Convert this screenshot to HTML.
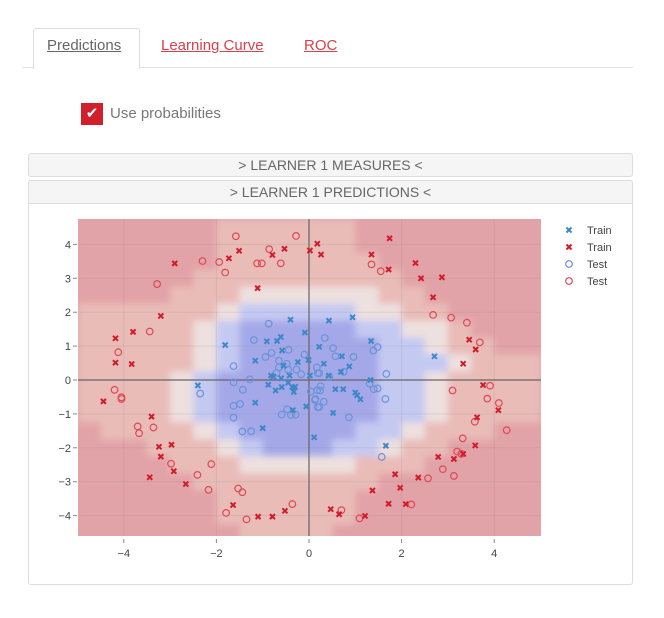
<!DOCTYPE html>
<html><head><meta charset="utf-8"><style>
body{margin:0;width:664px;height:618px;background:#fff;font-family:"Liberation Sans",sans-serif;position:relative;overflow:hidden}
.abs{position:absolute}
.tab{position:absolute;top:37px;font-size:15px;text-decoration:underline}
.hdr{position:absolute;left:28px;width:603px;height:22px;background:#f5f5f5;border:1px solid #ddd;border-radius:3px;text-align:center;font-size:14px;line-height:22px;color:#666}
</style></head><body>
<div class="abs" style="left:22px;top:67px;width:611px;height:1px;background:#e3e3e3"></div>
<div class="abs" style="left:33px;top:28px;width:105px;height:40px;border:1px solid #ddd;border-bottom:none;background:#fff;border-radius:3px 3px 0 0"></div>
<div class="tab" style="left:47px;color:#666">Predictions</div>
<div class="tab" style="left:161px;color:#d9404a">Learning Curve</div>
<div class="tab" style="left:304px;color:#d9404a">ROC</div>
<div class="abs" style="left:81px;top:103px;width:22px;height:22px;background:#d11f2c;color:#fff;font-size:15px;line-height:22px;text-align:center">✔</div>
<div class="abs" style="left:110px;top:105px;font-size:15px;color:#777">Use probabilities</div>
<div class="hdr" style="top:153px">&gt; LEARNER 1 MEASURES &lt;</div>
<div class="abs" style="left:28px;top:180px;width:603px;height:403px;border:1px solid #ddd;border-radius:3px"></div>
<div class="hdr" style="top:180px;border-radius:3px 3px 0 0">&gt; LEARNER 1 PREDICTIONS &lt;</div>
<svg class="abs" style="left:0;top:0" width="664" height="618" id="chart">
<defs><clipPath id="cp"><rect x="78" y="219" width="463" height="317"/></clipPath>
<filter id="bl" x="-10%" y="-10%" width="120%" height="120%"><feGaussianBlur stdDeviation="3.5"/></filter></defs>
</svg>
<script>
const heatRows=[
[0,0,0,0,0,0,1,1,1,1,1,1,0,0,0,0,0,0,0,0],
[0,0,0,0,0,0,1,1,1,1,1,1,0,0,0,0,0,0,0,0],
[0,0,0,0,0,0,1,1,1,1,1,1,1,0,0,0,0,0,0,0],
[0,0,0,0,0,1,1,1,1,1,1,1,1,1,0,0,0,0,0,0],
[0,0,0,0,1,1,1,2,2,2,2,2,2,1,1,0,0,0,0,0],
[1,1,1,1,1,1,2,3,3,3,3,3,2,2,1,1,0,0,0,0],
[1,1,1,1,1,2,3,4,4,4,4,4,3,3,2,2,1,0,0,0],
[1,1,1,1,1,2,3,4,4,4,4,4,4,3,3,2,1,1,0,0],
[1,1,1,1,1,2,3,4,4,4,4,4,4,3,3,3,2,1,1,1],
[1,1,1,1,2,3,4,4,4,4,4,4,4,3,3,2,1,1,1,1],
[1,1,1,1,2,3,4,4,4,4,4,4,4,3,3,2,1,1,1,1],
[1,1,1,1,2,3,4,4,4,4,4,4,4,3,3,2,1,1,1,1],
[0,1,1,1,1,2,3,4,4,4,4,4,3,3,2,1,1,1,0,0],
[0,0,0,1,1,1,2,3,4,4,4,3,3,2,1,1,0,0,0,0],
[0,0,0,0,1,1,1,2,2,2,2,2,1,1,1,0,0,0,0,0],
[0,0,0,0,0,1,1,1,1,1,1,1,1,0,0,0,0,0,0,0],
[0,0,0,0,0,0,1,1,1,1,1,1,0,0,0,0,0,0,0,0],
[0,0,0,0,0,0,1,1,1,1,1,1,0,0,0,0,0,0,0,0],
[0,0,0,0,0,0,0,1,1,1,1,0,0,0,0,0,0,0,0,0]];
const blueTrainX=[-0.40,-0.09,-0.91,-0.69,-0.61,-1.81,-0.58,-1.16,-0.24,-0.55,-0.01,-0.82,-0.77,-0.42,-0.60,-0.88,-0.72,-0.59,-0.36,-0.30,-0.33,-0.45,0.02,-2.40,-1.16,-1.00,-0.35,-0.06,0.11,0.43,0.94,0.22,0.71,1.34,2.71,0.32,0.87,0.69,0.43,1.33,0.57,0.74,1.00,1.04,1.11,0.52,1.66];
const blueTrainY=[1.78,1.40,1.14,1.15,1.27,1.03,0.87,0.57,0.53,0.42,0.59,0.13,0.10,0.13,0.05,-0.14,-0.31,-0.21,-0.21,-0.20,-0.35,-0.08,0.13,-0.16,-0.67,-1.42,-0.89,-0.78,-1.69,1.75,1.85,0.98,0.70,1.15,0.70,0.48,0.40,0.24,0.13,0.00,-0.27,-0.27,-0.37,-0.45,-0.57,-0.97,-1.94];
const redTrainX=[-2.90,-1.73,-1.51,-1.11,-0.53,-0.79,0.02,0.18,-3.20,-3.80,-4.18,-4.18,-3.83,-4.44,-3.40,-3.24,-3.20,-2.97,-2.92,-3.44,-2.66,-1.64,-1.10,-0.79,-0.52,0.26,1.74,1.35,1.72,2.30,2.42,2.87,2.68,3.46,3.60,3.33,3.76,4.09,3.63,3.59,3.33,3.13,2.79,2.36,1.86,1.97,1.37,1.72,2.09,0.47,0.65,1.21];
const redTrainY=[3.44,3.59,3.81,2.71,3.87,3.69,3.82,4.02,1.89,1.42,1.23,0.51,0.47,-0.63,-1.08,-1.97,-2.26,-1.91,-2.69,-2.87,-3.07,-3.69,-4.03,-4.03,-3.86,3.70,4.18,3.70,3.26,3.45,3.00,3.03,2.44,1.19,0.90,0.48,-0.15,-0.89,-1.10,-1.93,-2.18,-2.33,-2.27,-2.88,-2.78,-3.18,-3.26,-3.65,-3.66,-3.81,-3.96,-4.01];
const blueTestX=[-0.87,-1.19,-0.94,-0.81,-0.65,-0.48,-0.44,-0.65,-0.70,-0.45,-0.27,-0.17,-0.10,0.17,0.19,-1.63,-1.63,-1.28,-1.43,-2.35,-1.63,-1.49,-1.63,-1.44,-1.25,-0.59,-0.39,-0.29,-0.47,0.04,0.14,0.19,0.18,0.34,0.52,0.57,0.96,1.48,1.39,0.22,0.75,0.44,1.67,1.31,0.25,0.24,1.40,1.48,0.13,0.32,0.22,1.65,0.86,1.57];
const blueTestY=[1.66,1.18,0.68,0.80,0.57,0.48,0.89,0.37,0.21,0.31,0.31,0.17,0.75,0.37,0.20,0.41,-0.07,0.02,-0.29,-0.40,-0.76,-0.71,-1.11,-1.52,-1.51,-1.02,-1.03,-1.02,-0.86,-0.34,-0.56,-0.80,-0.30,1.24,0.94,0.70,0.68,0.97,0.87,0.20,0.24,0.08,0.18,-0.11,-0.18,-0.31,-0.27,-0.25,-0.59,-0.64,-0.80,-0.56,-1.10,-2.27];
const redTestX=[-1.58,-0.28,-2.30,-1.94,-1.81,-1.12,-1.02,-0.86,-0.61,-3.28,-3.44,-4.12,-4.20,-4.05,-4.05,-3.70,-3.67,-3.36,-2.98,-2.11,-2.41,-2.17,-1.53,-1.44,-1.79,-1.35,-0.36,1.35,1.55,2.68,3.07,3.41,3.69,3.91,3.10,3.85,4.10,3.58,4.27,3.32,3.20,3.29,2.89,3.13,2.57,2.21,0.70,1.09];
const redTestY=[4.24,4.25,3.51,3.48,3.17,3.44,3.44,3.86,3.44,2.83,1.43,0.82,-0.29,-0.51,-0.56,-1.37,-1.57,-1.40,-2.47,-2.48,-2.80,-3.24,-3.20,-3.31,-3.92,-4.11,-3.66,3.41,3.21,1.92,1.84,1.69,1.11,-0.17,-0.31,-0.55,-0.68,-1.23,-1.48,-1.72,-2.11,-2.18,-2.63,-2.83,-2.90,-3.67,-3.84,-4.08];
const xTicks=[-4,-2,0,2,4];
const yTicks=[4,3,2,1,0,-1,-2,-3,-4];
const NS='http://www.w3.org/2000/svg';
const svg=document.getElementById('chart');
const sx=v=>309+v*46.3, sy=v=>380-v*33.9;
const levelColors=['#e2a3a8','#e9bcb8','#ede0df','#c4c9f2','#a4a8e8'];
function mk(tag,attrs,parent){const e=document.createElementNS(NS,tag);for(const k in attrs)e.setAttribute(k,attrs[k]);(parent||svg).appendChild(e);return e;}
const clipG=mk('g',{'clip-path':'url(#cp)'});
const bg=mk('rect',{x:78,y:219,width:463,height:317,fill:levelColors[0]},clipG);


const hg=mk('g',{filter:'url(#bl)'},clipG);
heatRows.forEach((row,r)=>{const yc=4.5-0.5*r;row.forEach((v,c)=>{const xc=-4.75+0.5*c;
 const cell=mk('rect',{x:sx(xc-0.25),y:sy(yc+0.25),width:46.3*0.5+0.5,height:33.9*0.5+0.5,fill:levelColors[v]},hg);
 
 });});
xTicks.forEach(t=>{const l=mk('line',{x1:sx(t),x2:sx(t),y1:219,y2:536,stroke:t===0?'#666':'rgba(120,120,120,0.15)','stroke-width':t===0?1.2:1},clipG);
 
 
 const tk=mk('line',{x1:sx(t),x2:sx(t),y1:539,y2:543,stroke:'#888'});
 
 
 const tx=mk('text',{x:sx(t),y:557,'text-anchor':'middle','font-size':11,fill:'#444','font-family':'Liberation Sans, sans-serif'});
 tx.textContent=t<0?'\u2212'+(-t):String(t);
 
 });
yTicks.forEach(t=>{const l=mk('line',{x1:78,x2:541,y1:sy(t),y2:sy(t),stroke:t===0?'#666':'rgba(120,120,120,0.15)','stroke-width':t===0?1.2:1},clipG);
 
 
 const tk=mk('line',{x1:73,x2:77,y1:sy(t),y2:sy(t),stroke:'#888'});
 
 
 const tx=mk('text',{x:71,y:sy(t)+4,'text-anchor':'end','font-size':11,fill:'#444','font-family':'Liberation Sans, sans-serif'});
 tx.textContent=t<0?'\u2212'+(-t):String(t);
 
 });
function cross(x,y,col,parent,name){const g=mk('g',{},parent);
 
 
 mk('path',{d:`M${x-2.5},${y-2.5}L${x+2.5},${y+2.5}M${x-2.5},${y+2.5}L${x+2.5},${y-2.5}`,stroke:col,'stroke-width':2},g);}
function circ(x,y,col,parent,name){const c=mk('circle',{cx:x,cy:y,r:3.3,fill:'none',stroke:col,'stroke-width':1.2},parent);
 
 }
const BT='#3d87c8',RT='#d21b2a',BO='#6a93d8',RO='#dc4a55';
blueTestX.forEach((v,i)=>circ(sx(v),sy(blueTestY[i]),BO,clipG,'blue-test-point'));
redTestX.forEach((v,i)=>circ(sx(v),sy(redTestY[i]),RO,clipG,'red-test-point'));
blueTrainX.forEach((v,i)=>cross(sx(v),sy(blueTrainY[i]),BT,clipG,'blue-train-point'));
redTrainX.forEach((v,i)=>cross(sx(v),sy(redTrainY[i]),RT,clipG,'red-train-point'));
const legend=[['Train',BT,'x'],['Train',RT,'x'],['Test',BO,'o'],['Test',RO,'o']];
legend.forEach((e,i)=>{const y=230+i*17;const g=mk('g',{});
 
 
 if(e[2]==='x')cross(569,y,e[1],g,'legend-marker');else circ(569,y,e[1],g,'legend-marker');
 const t=mk('text',{x:587,y:y+4,'font-size':11,fill:'#444','font-family':'Liberation Sans, sans-serif'},g);t.textContent=e[0];
 
 });
</script>
</body></html>
